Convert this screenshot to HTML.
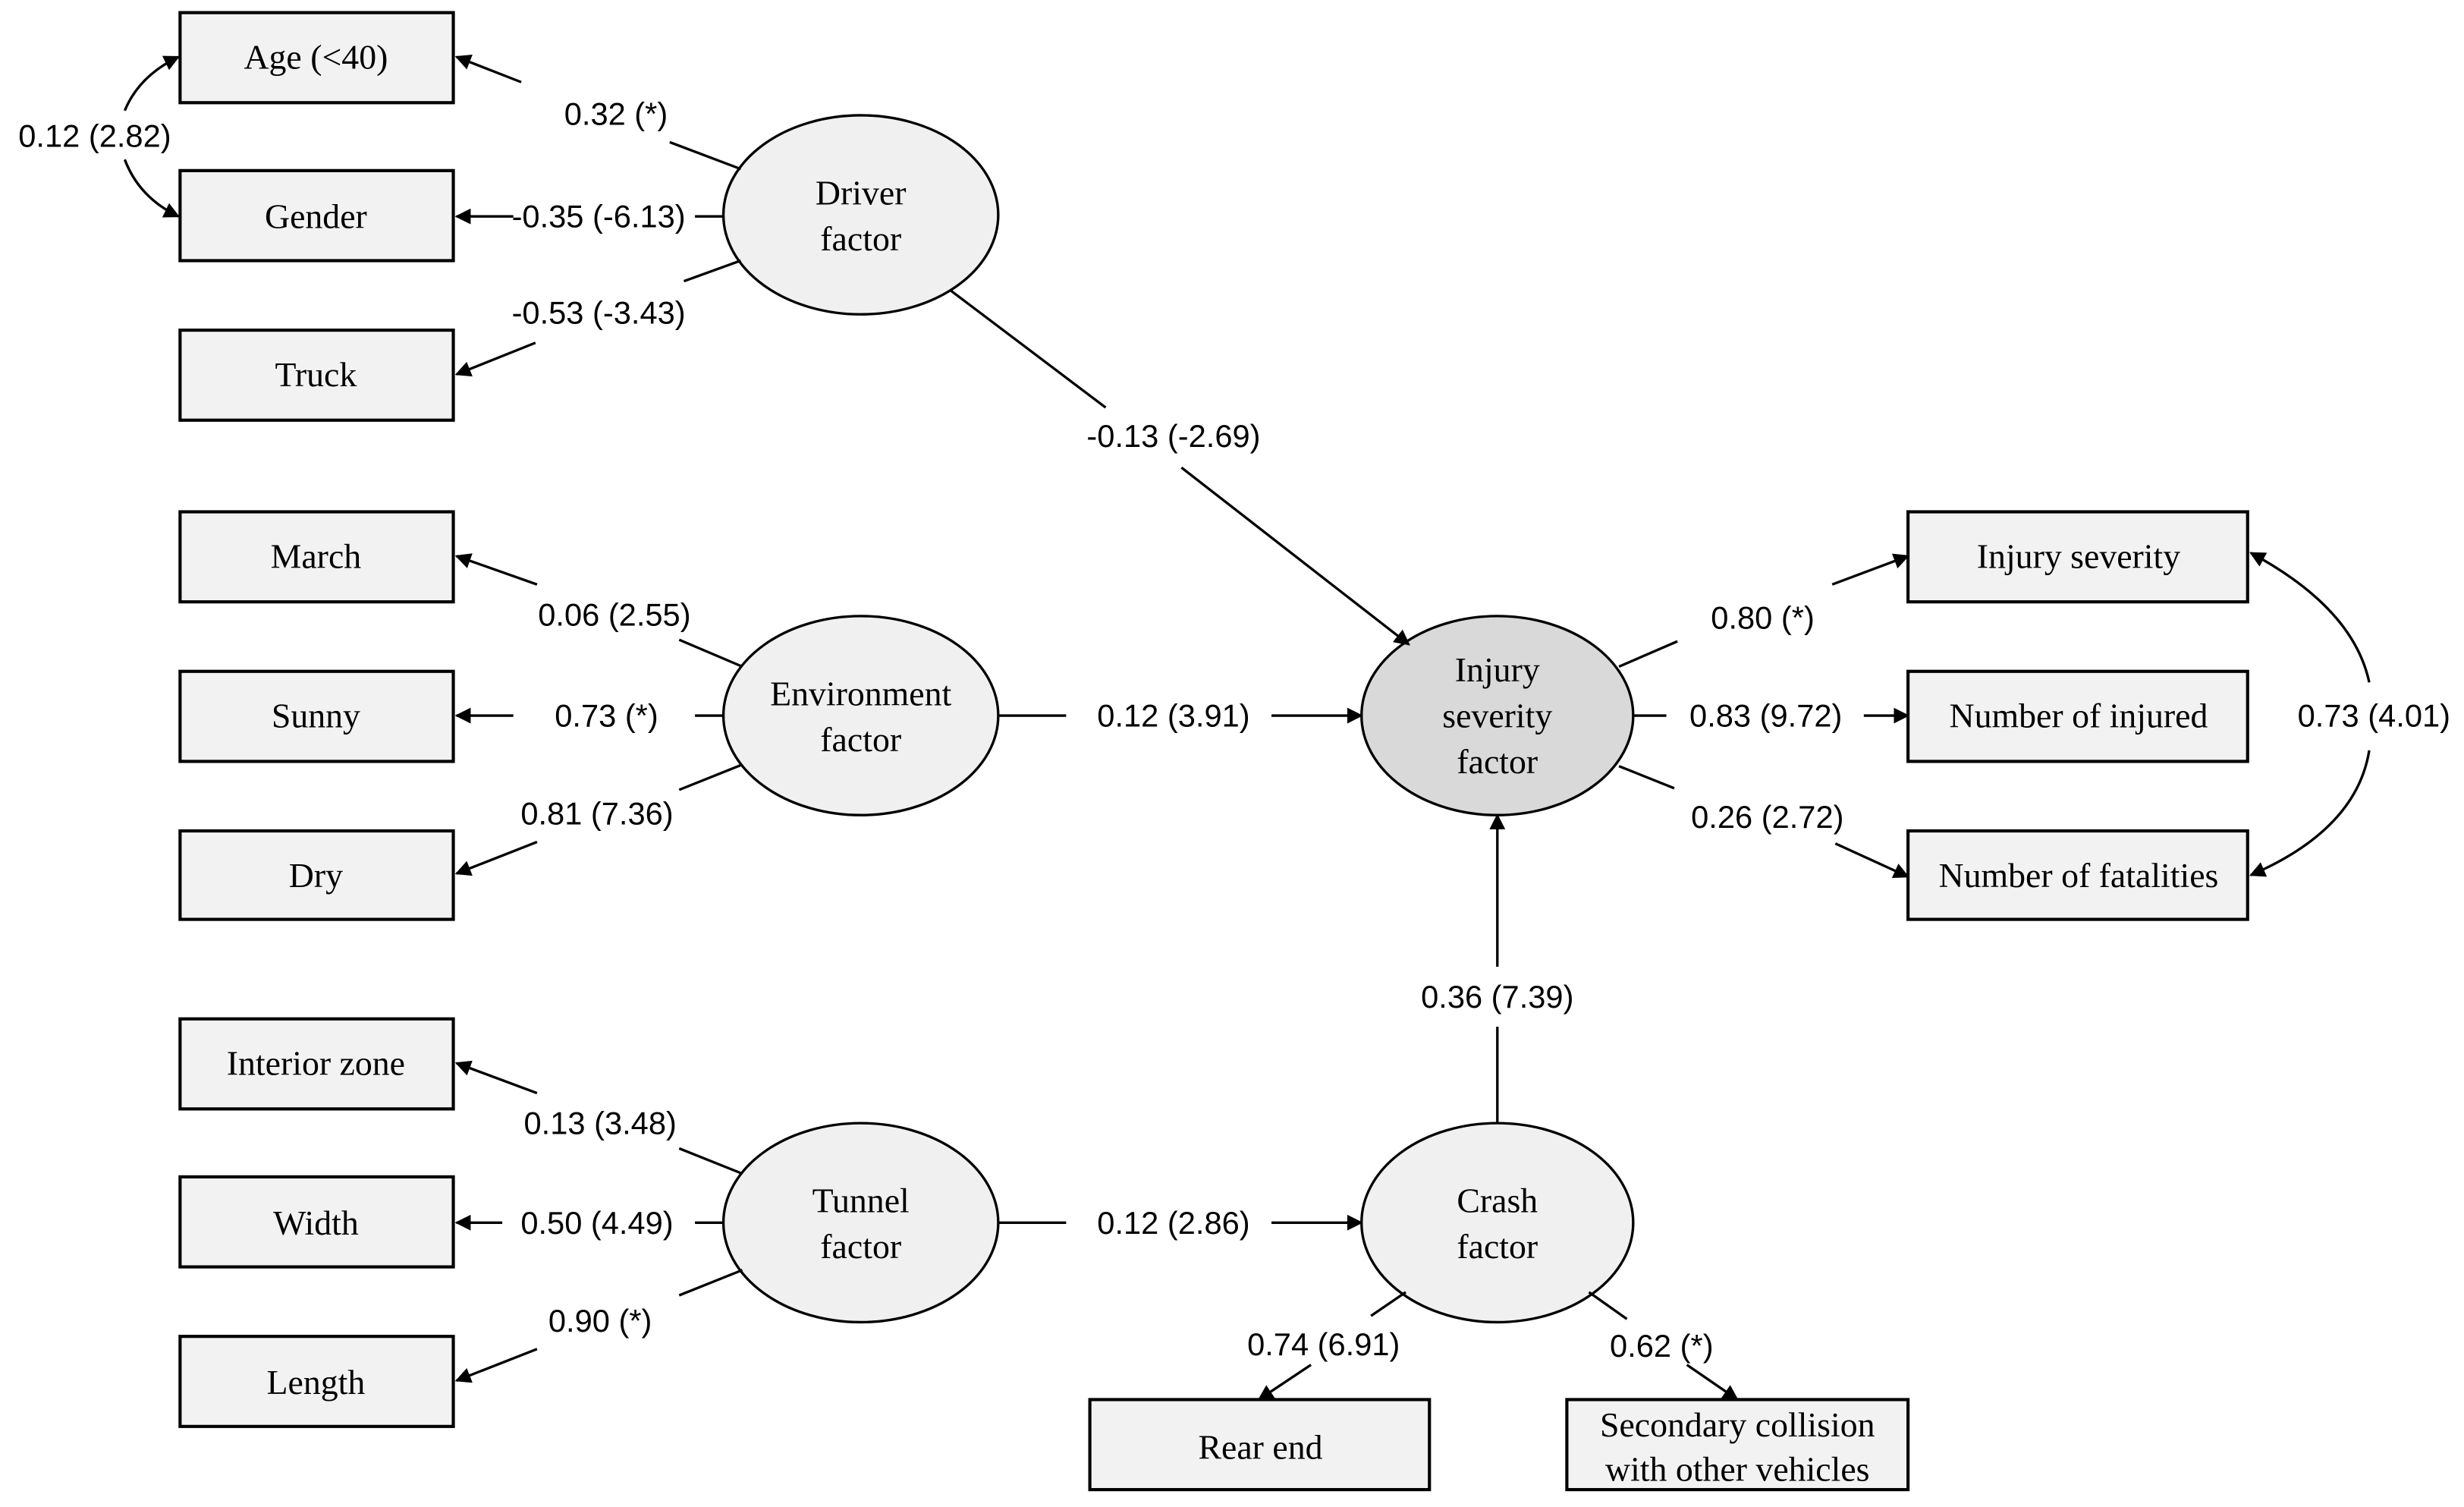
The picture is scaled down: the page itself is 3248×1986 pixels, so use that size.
<!DOCTYPE html>
<html><head><meta charset="utf-8"><style>
html,body{margin:0;padding:0;background:#fff;}
svg{display:block;}
.b{fill:#f2f2f2;stroke:#000;stroke-width:2;}
.e{fill:#f0f0f0;stroke:#000;stroke-width:1.6;}
.t{font-family:"Liberation Serif",serif;font-size:22px;text-anchor:middle;dominant-baseline:central;}
.l{font-family:"Liberation Sans Narrow","Liberation Sans",sans-serif;font-size:20px;text-anchor:middle;dominant-baseline:central;}
.k{stroke:#000;stroke-width:1.6;fill:none;}
</style></head><body>
<svg width="3248" height="1986" viewBox="0 0 1560 954" preserveAspectRatio="none" xmlns="http://www.w3.org/2000/svg">
<defs><marker id="a" markerWidth="10" markerHeight="10" refX="9" refY="5" orient="auto" markerUnits="userSpaceOnUse"><path d="M0,0 L10,5 L0,10 z" fill="#000"/></marker></defs>
<g>
<rect class="b" x="114" y="8" width="173" height="57"/><text class="t" x="200" y="36">Age (&lt;40)</text>
<rect class="b" x="114" y="108" width="173" height="57"/><text class="t" x="200" y="137">Gender</text>
<rect class="b" x="114" y="209" width="173" height="57"/><text class="t" x="200" y="237">Truck</text>
<rect class="b" x="114" y="324" width="173" height="57"/><text class="t" x="200" y="352">March</text>
<rect class="b" x="114" y="425" width="173" height="57"/><text class="t" x="200" y="453">Sunny</text>
<rect class="b" x="114" y="526" width="173" height="56"/><text class="t" x="200" y="554">Dry</text>
<rect class="b" x="114" y="645" width="173" height="57"/><text class="t" x="200" y="673">Interior zone</text>
<rect class="b" x="114" y="745" width="173" height="57"/><text class="t" x="200" y="774">Width</text>
<rect class="b" x="114" y="846" width="173" height="57"/><text class="t" x="200" y="875">Length</text>
<rect class="b" x="1208" y="324" width="215" height="57"/><text class="t" x="1316" y="352">Injury severity</text>
<rect class="b" x="1208" y="425" width="215" height="57"/><text class="t" x="1316" y="453">Number of injured</text>
<rect class="b" x="1208" y="526" width="215" height="56"/><text class="t" x="1316" y="554">Number of fatalities</text>
<rect class="b" x="690" y="886" width="215" height="57"/><text class="t" x="798" y="916">Rear end</text>
<rect class="b" x="992" y="886" width="216" height="57"/><text class="t" x="1100" y="902">Secondary collision</text><text class="t" x="1100" y="930">with other vehicles</text>

<ellipse class="e" cx="545" cy="136" rx="87" ry="63"/><text class="t" x="545" y="122">Driver</text><text class="t" x="545" y="151">factor</text>
<ellipse class="e" cx="545" cy="453" rx="87" ry="63"/><text class="t" x="545" y="439">Environment</text><text class="t" x="545" y="468">factor</text>
<ellipse class="e" cx="545" cy="774" rx="87" ry="63"/><text class="t" x="545" y="760">Tunnel</text><text class="t" x="545" y="789">factor</text>
<ellipse class="e" cx="948" cy="453" rx="86" ry="63" style="fill:#d9d9d9"/><text class="t" x="948" y="424">Injury</text><text class="t" x="948" y="453">severity</text><text class="t" x="948" y="482">factor</text>
<ellipse class="e" cx="948" cy="774" rx="86" ry="63"/><text class="t" x="948" y="760">Crash</text><text class="t" x="948" y="789">factor</text>

<!-- driver -->
<line class="k" x1="469" y1="107" x2="424" y2="90"/><line class="k" x1="330" y1="52" x2="289" y2="36" marker-end="url(#a)"/><text class="l" x="390" y="72">0.32 (*)</text>
<line class="k" x1="458" y1="137" x2="440" y2="137"/><line class="k" x1="325" y1="137" x2="289" y2="137" marker-end="url(#a)"/><text class="l" x="379" y="137">-0.35 (-6.13)</text>
<line class="k" x1="469" y1="165" x2="433" y2="178"/><line class="k" x1="339" y1="217" x2="289" y2="237" marker-end="url(#a)"/><text class="l" x="379" y="198">-0.53 (-3.43)</text>
<line class="k" x1="602" y1="184" x2="700" y2="258"/><line class="k" x1="748" y1="296" x2="892" y2="408" marker-end="url(#a)"/><text class="l" x="743" y="276">-0.13 (-2.69)</text>
<!-- environment -->
<line class="k" x1="470" y1="422" x2="430" y2="405"/><line class="k" x1="340" y1="370" x2="289" y2="352" marker-end="url(#a)"/><text class="l" x="389" y="389">0.06 (2.55)</text>
<line class="k" x1="458" y1="453" x2="440" y2="453"/><line class="k" x1="325" y1="453" x2="289" y2="453" marker-end="url(#a)"/><text class="l" x="384" y="453">0.73 (*)</text>
<line class="k" x1="470" y1="484" x2="430" y2="500"/><line class="k" x1="340" y1="533" x2="289" y2="553" marker-end="url(#a)"/><text class="l" x="378" y="515">0.81 (7.36)</text>
<line class="k" x1="632" y1="453" x2="675" y2="453"/><line class="k" x1="805" y1="453" x2="862" y2="453" marker-end="url(#a)"/><text class="l" x="743" y="453">0.12 (3.91)</text>
<!-- tunnel -->
<line class="k" x1="470" y1="743" x2="430" y2="727"/><line class="k" x1="340" y1="692" x2="289" y2="673" marker-end="url(#a)"/><text class="l" x="380" y="711">0.13 (3.48)</text>
<line class="k" x1="458" y1="774" x2="440" y2="774"/><line class="k" x1="318" y1="774" x2="289" y2="774" marker-end="url(#a)"/><text class="l" x="378" y="774">0.50 (4.49)</text>
<line class="k" x1="470" y1="804" x2="430" y2="820"/><line class="k" x1="340" y1="854" x2="289" y2="874" marker-end="url(#a)"/><text class="l" x="380" y="836">0.90 (*)</text>
<line class="k" x1="632" y1="774" x2="675" y2="774"/><line class="k" x1="805" y1="774" x2="862" y2="774" marker-end="url(#a)"/><text class="l" x="743" y="774">0.12 (2.86)</text>
<!-- crash -->
<line class="k" x1="948" y1="711" x2="948" y2="650"/><line class="k" x1="948" y1="612" x2="948" y2="516" marker-end="url(#a)"/><text class="l" x="948" y="631">0.36 (7.39)</text>
<line class="k" x1="890" y1="818" x2="868" y2="833"/><line class="k" x1="830" y1="864" x2="797" y2="886" marker-end="url(#a)"/><text class="l" x="838" y="851">0.74 (6.91)</text>
<line class="k" x1="1006" y1="818" x2="1030" y2="835"/><line class="k" x1="1068" y1="864" x2="1100" y2="886" marker-end="url(#a)"/><text class="l" x="1052" y="852">0.62 (*)</text>
<!-- injury -->
<line class="k" x1="1025" y1="422" x2="1062" y2="406"/><line class="k" x1="1160" y1="370" x2="1208" y2="352" marker-end="url(#a)"/><text class="l" x="1116" y="391">0.80 (*)</text>
<line class="k" x1="1034" y1="453" x2="1055" y2="453"/><line class="k" x1="1180" y1="453" x2="1208" y2="453" marker-end="url(#a)"/><text class="l" x="1118" y="453">0.83 (9.72)</text>
<line class="k" x1="1025" y1="485" x2="1060" y2="499"/><line class="k" x1="1162" y1="534" x2="1208" y2="555" marker-end="url(#a)"/><text class="l" x="1119" y="517">0.26 (2.72)</text>
<!-- covariances -->
<path class="k" d="M1500,432 Q1490,385 1425,350" marker-end="url(#a)"/><path class="k" d="M1500,475 Q1492,525 1425,554" marker-end="url(#a)"/><text class="l" x="1503" y="453">0.73 (4.01)</text>
<path class="k" d="M79,70 Q88,48 113,36" marker-end="url(#a)"/><path class="k" d="M79,101 Q88,125 113,137" marker-end="url(#a)"/><text class="l" x="60" y="86">0.12 (2.82)</text>
</g>
</svg>
</body></html>
